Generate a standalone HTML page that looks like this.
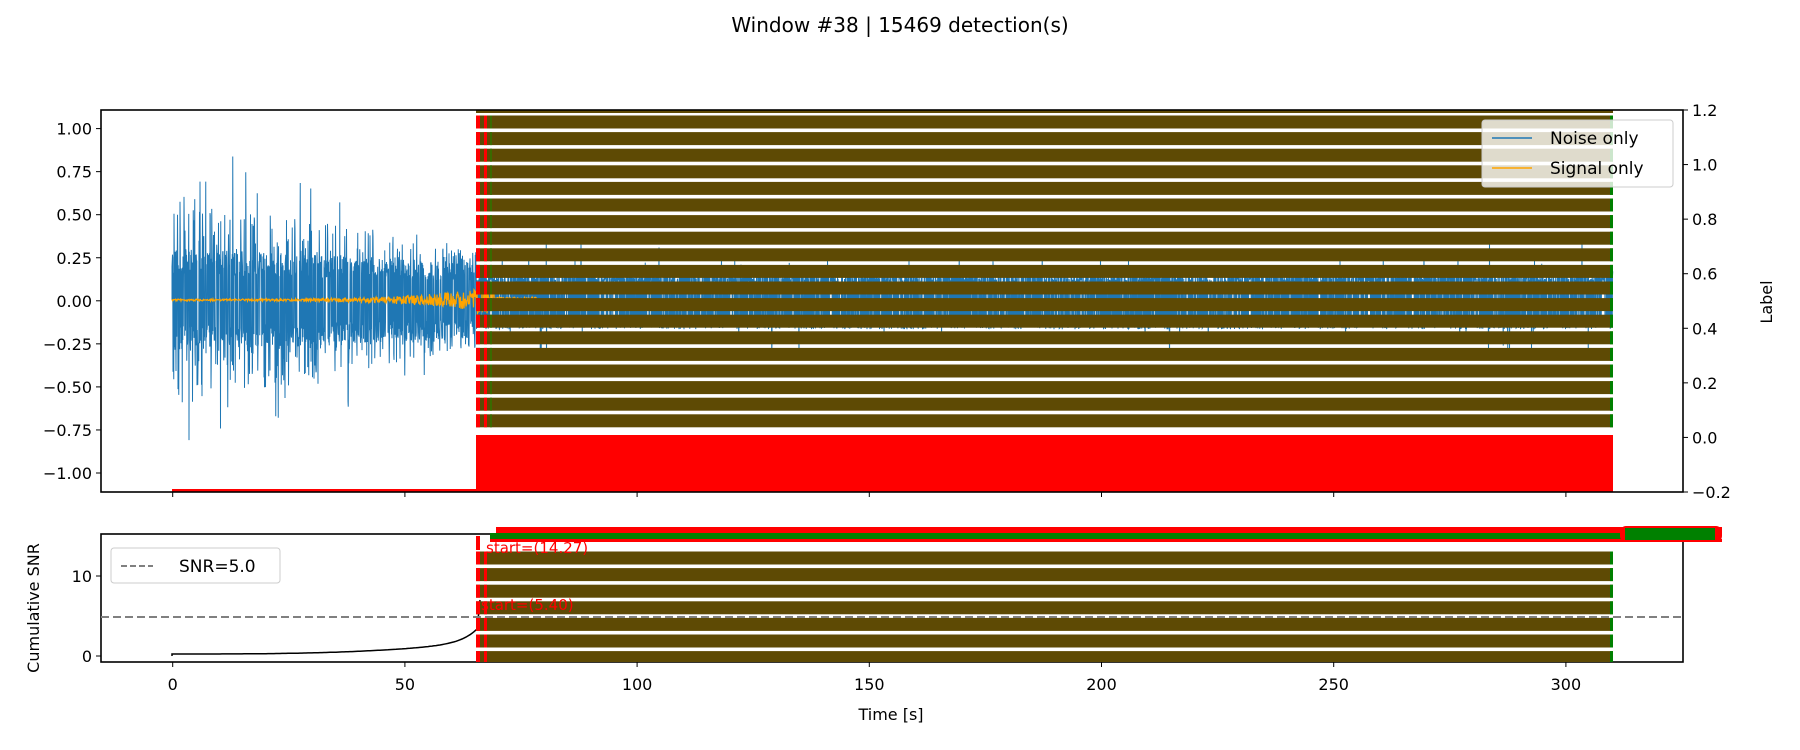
<!DOCTYPE html>
<html><head><meta charset="utf-8"><style>
html,body{margin:0;padding:0;background:#fff;}
svg{display:block;font-family:"DejaVu Sans","Liberation Sans",sans-serif;}
</style></head><body>
<svg id="s" width="1800" height="750" viewBox="0 0 1800 750" xmlns="http://www.w3.org/2000/svg">
<rect width="1800" height="750" fill="#fff"/>
<text x="900" y="32" font-size="20" text-anchor="middle">Window #38 | 15469 detection(s)</text>
<g id="noise"></g>
<g id="stripes"></g>
<rect x="101" y="110" width="1582" height="382" fill="none" stroke="#000" stroke-width="1.6"/>
<g font-size="16" text-anchor="end" id="lt"></g>
<g font-size="16" id="rt"></g>
<text x="1772" y="302" font-size="16" text-anchor="middle" transform="rotate(-90 1772 302)">Label</text>
<rect x="1482" y="120" width="191" height="67" rx="3" fill="#fff" fill-opacity="0.8" stroke="#ccc"/>
<line x1="1492" y1="138" x2="1532" y2="138" stroke="#1f77b4" stroke-width="1.5"/>
<text x="1550" y="144" font-size="17">Noise only</text>
<line x1="1492" y1="168" x2="1532" y2="168" stroke="#ffa500" stroke-width="1.5"/>
<text x="1550" y="174" font-size="17">Signal only</text>
<rect x="101" y="534" width="1582" height="128" fill="none" stroke="#000" stroke-width="1.6"/>
<g id="bot"></g>
<line x1="101" y1="617" x2="1683" y2="617" stroke="#808080" stroke-width="2" stroke-dasharray="8,4"/>
<rect x="111" y="548" width="169" height="35" rx="3" fill="#fff" fill-opacity="0.8" stroke="#ccc"/>
<line x1="121" y1="566" x2="153" y2="566" stroke="#808080" stroke-width="2" stroke-dasharray="6,3"/>
<text x="179" y="572" font-size="17">SNR=5.0</text>
<text x="39" y="608" font-size="16" text-anchor="middle" transform="rotate(-90 39 608)">Cumulative SNR</text>
<g font-size="16" text-anchor="end">
<line x1="101" y1="576" x2="96" y2="576" stroke="#000"/><text x="92" y="582">10</text>
<line x1="101" y1="656" x2="96" y2="656" stroke="#000"/><text x="92" y="662">0</text>
</g>
<g id="xt" font-size="16" text-anchor="middle"></g>
<text x="891" y="720" font-size="16" text-anchor="middle">Time [s]</text>
</svg>
<script>
var NS="http://www.w3.org/2000/svg";
function el(p,t,a,txt){var e=document.createElementNS(NS,t);for(var k in a)e.setAttribute(k,a[k]);if(txt!==undefined)e.textContent=txt;p.appendChild(e);return e;}
var seed=7;function rnd(){seed=(seed*16807)%2147483647;return seed/2147483647;}
var noise=document.getElementById('noise');
var y0=300,A=172;
var d="M172 "+y0;
for(var x=172;x<1613;x+=0.25){
 var t=(x-172)/304, v, r=rnd(), s=rnd()<0.5?-1:1;
 if(x<476){
   var env=1-0.65*t;
   var core=0.3-0.08*t;
   if(r>0.955) v=env*(0.35+0.65*rnd());
   else if(r>0.8) v=core+(env-core)*0.45*rnd();
   else v=core*(0.5+0.5*rnd());
 } else {
   if(r>0.99) v=0.2+0.15*rnd(); else v=0.1+0.07*rnd();
 }
 d+=" L"+x.toFixed(2)+" "+(y0-s*v*A).toFixed(1);
}
el(noise,'path',{d:d,fill:'none',stroke:'#1f77b4','stroke-width':1});
var sd="M172 "+y0;
for(var x=172;x<540;x+=0.5){var e=x<476?1+10*Math.pow((x-172)/304,4):(x<495?14:3);sd+=" L"+x.toFixed(1)+" "+(y0+(rnd()*2-1)*e).toFixed(1);}
el(noise,'path',{d:sd,fill:'none',stroke:'#ffa500','stroke-width':1.2});
var st=document.getElementById('stripes');
el(st,'rect',{x:476,y:435,width:1137,height:57,fill:'#ff0000'});
el(st,'rect',{x:172,y:489,width:304,height:3,fill:'#ff0000'});
for(var i=0;i<19;i++){var yy=115.5+i*16.6;
 el(st,'rect',{x:476,y:yy,width:1137,height:13,fill:'#5e4a04'});
 el(st,'rect',{x:476,y:yy,width:4,height:13,fill:'#ff0000'});
 el(st,'rect',{x:484,y:yy,width:3,height:13,fill:'#ff0000'});
 el(st,'rect',{x:490,y:yy,width:2,height:13,fill:'#3a6a00'});
 el(st,'rect',{x:1610,y:yy,width:3,height:13,fill:'#008000'});
}
el(st,'rect',{x:476,y:110,width:1137,height:3,fill:'#5e4a04'});
var bot=document.getElementById('bot');
var cd="M172 656";for(var x=172;x<=478;x+=2){var t=(x-172)/306;var yv=655-1-12*Math.pow(t,3)-14*Math.pow(t,20);cd+=" L"+x+" "+yv.toFixed(1);}cd+=" L478 620 L480 600";
el(bot,'path',{d:cd,fill:'none',stroke:'#000','stroke-width':1.5});
for(var i=0;i<7;i++){var yy=551.5+i*16.6;var h=Math.min(13,662-yy);
 el(bot,'rect',{x:476,y:yy,width:1137,height:h,fill:'#5e4a04'});
 el(bot,'rect',{x:476,y:yy,width:4,height:h,fill:'#ff0000'});
 el(bot,'rect',{x:484,y:yy,width:3,height:h,fill:'#ff0000'});
 el(bot,'rect',{x:1610,y:yy,width:3,height:h,fill:'#008000'});
}
el(bot,'rect',{x:476,y:536,width:4,height:14,fill:'#ff0000'});
el(bot,'rect',{x:496,y:527,width:1226,height:6,fill:'#ff0000'});
el(bot,'rect',{x:490,y:533,width:1230,height:6,fill:'#008000'});
el(bot,'rect',{x:490,y:539,width:1232,height:3,fill:'#ff0000'});
el(bot,'rect',{x:1620,y:526,width:102,height:16,rx:6,fill:'#ff0000'});
el(bot,'rect',{x:1625,y:528,width:90,height:12,fill:'#008000'});
el(bot,'text',{x:481,y:610,'font-size':15,fill:'#ff0000'},'start=(5.40)');
el(bot,'text',{x:486,y:553,'font-size':15,fill:'#ff0000'},'start=(14.27)');
var lt=document.getElementById('lt');
var lv=["1.00","0.75","0.50","0.25","0.00","−0.25","−0.50","−0.75","−1.00"];
for(var i=0;i<9;i++){var yy=128.6+i*43.05;el(lt,'line',{x1:101,y1:yy,x2:96,y2:yy,stroke:'#000'});el(lt,'text',{x:92,y:yy+6},lv[i]);}
var rt=document.getElementById('rt');
var rv=["1.2","1.0","0.8","0.6","0.4","0.2","0.0","−0.2"];
for(var i=0;i<8;i++){var yy=110+i*54.57;el(rt,'line',{x1:1683,y1:yy,x2:1688,y2:yy,stroke:'#000'});el(rt,'text',{x:1692,y:yy+6},rv[i]);}
var xt=document.getElementById('xt');
for(var i=0;i<7;i++){var xx=172.7+i*232.2;
 el(xt,'line',{x1:xx,y1:492,x2:xx,y2:497,stroke:'#000'});
 el(xt,'line',{x1:xx,y1:662,x2:xx,y2:667,stroke:'#000'});
 el(xt,'text',{x:xx,y:690},String(i*50));}
</script>
</body></html>
